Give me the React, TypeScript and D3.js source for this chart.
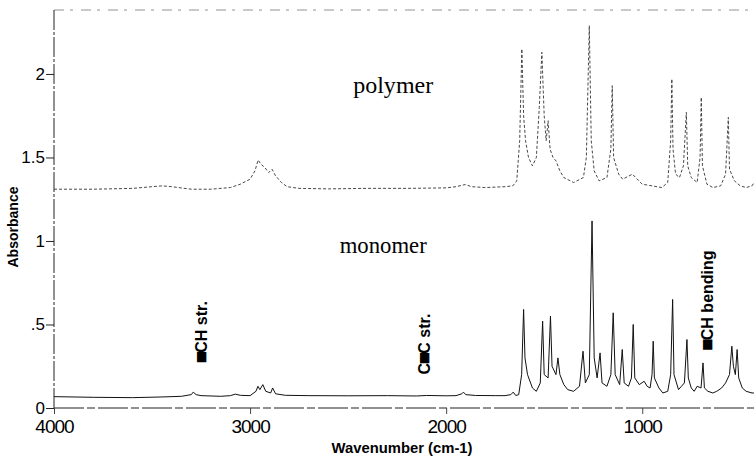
import * as d3 from 'd3';
import { useEffect, useRef } from 'react';

// wavenumber (cm-1), absorbance
const polymer: [number, number][] = [
  [4000, 1.31], [3800, 1.31], [3600, 1.315], [3500, 1.325], [3450, 1.33], [3400, 1.325],
  [3300, 1.31], [3200, 1.31], [3100, 1.32], [3050, 1.34], [3000, 1.37], [2975, 1.42],
  [2959, 1.485], [2945, 1.46], [2925, 1.44], [2905, 1.41], [2888, 1.43], [2870, 1.39],
  [2840, 1.35], [2811, 1.325], [2750, 1.315], [2600, 1.312], [2400, 1.315], [2200, 1.315],
  [2000, 1.318], [1950, 1.325], [1903, 1.338], [1870, 1.325], [1800, 1.32], [1700, 1.325],
  [1660, 1.33], [1640, 1.36], [1625, 1.6], [1614, 2.15], [1605, 1.75], [1595, 1.6],
  [1580, 1.5], [1560, 1.45], [1540, 1.5], [1525, 1.8], [1512, 2.13], [1500, 1.75],
  [1490, 1.6], [1480, 1.72], [1470, 1.55], [1455, 1.5], [1440, 1.48], [1420, 1.42],
  [1400, 1.38], [1350, 1.35], [1300, 1.38], [1285, 1.5], [1270, 2.29], [1260, 1.6],
  [1245, 1.42], [1220, 1.36], [1180, 1.38], [1160, 1.55], [1153, 1.93], [1146, 1.5],
  [1120, 1.4], [1100, 1.37], [1050, 1.4], [1000, 1.34], [950, 1.33], [900, 1.32],
  [870, 1.35], [855, 1.6], [849, 1.97], [843, 1.55], [830, 1.4], [810, 1.38], [790, 1.45],
  [775, 1.77], [768, 1.45], [750, 1.38], [720, 1.35], [705, 1.5], [699, 1.86], [693, 1.45],
  [670, 1.34], [640, 1.32], [600, 1.33], [575, 1.4], [561, 1.74], [555, 1.43], [530, 1.36],
  [500, 1.33], [470, 1.32], [440, 1.33], [430, 1.35]
];

const monomer: [number, number][] = [
  [4000, 0.068], [3800, 0.064], [3600, 0.062], [3450, 0.066], [3350, 0.07], [3300, 0.08],
  [3290, 0.095], [3275, 0.08], [3250, 0.074], [3150, 0.07], [3100, 0.074], [3075, 0.083],
  [3050, 0.076], [3000, 0.074], [2970, 0.1], [2960, 0.13], [2950, 0.11], [2935, 0.14],
  [2920, 0.1], [2895, 0.09], [2885, 0.12], [2870, 0.085], [2820, 0.076], [2700, 0.074],
  [2500, 0.073], [2300, 0.074], [2150, 0.072], [2100, 0.075], [2000, 0.073], [1950, 0.074],
  [1920, 0.085], [1912, 0.095], [1900, 0.08], [1850, 0.075], [1750, 0.074], [1700, 0.074],
  [1670, 0.08], [1658, 0.095], [1645, 0.075], [1630, 0.08], [1615, 0.2], [1605, 0.59],
  [1598, 0.3], [1585, 0.2], [1560, 0.12], [1540, 0.1], [1520, 0.15], [1508, 0.52],
  [1500, 0.2], [1480, 0.18], [1468, 0.55], [1460, 0.25], [1440, 0.2], [1430, 0.3],
  [1420, 0.2], [1400, 0.14], [1380, 0.11], [1350, 0.1], [1320, 0.13], [1302, 0.34],
  [1290, 0.15], [1270, 0.2], [1256, 1.12], [1245, 0.3], [1230, 0.18], [1215, 0.33],
  [1205, 0.15], [1180, 0.13], [1160, 0.2], [1148, 0.57], [1138, 0.2], [1115, 0.14],
  [1102, 0.35], [1092, 0.15], [1070, 0.13], [1055, 0.18], [1046, 0.5], [1038, 0.18],
  [1015, 0.14], [990, 0.16], [975, 0.13], [960, 0.12], [950, 0.2], [944, 0.4], [938, 0.18],
  [915, 0.12], [895, 0.09], [870, 0.1], [855, 0.2], [845, 0.65], [838, 0.2], [815, 0.11],
  [800, 0.13], [785, 0.15], [772, 0.41], [765, 0.18], [750, 0.12], [735, 0.1], [720, 0.13],
  [700, 0.12], [690, 0.27], [683, 0.12], [665, 0.1], [640, 0.09], [620, 0.1], [595, 0.12],
  [575, 0.15], [555, 0.2], [543, 0.37], [535, 0.25], [525, 0.2], [516, 0.35], [508, 0.18],
  [490, 0.12], [470, 0.1], [440, 0.09], [430, 0.09]
];

const xTicks = [4000, 3000, 2000, 1000];
const yTicks = [0, 0.5, 1, 1.5, 2];
const yTickLabels = ['0', '.5', '1', '1.5', '2'];

// [label, wavenumber, absorbance] of the sample names
const sampleLabels: [string, number, number][] = [
  ['polymer', 2270, 1.886],
  ['monomer', 2321, 0.93]
];

// [text before bond, bond, text after, wavenumber, absorbance at label start]
const bandLabels: [string, string, string, number, number][] = [
  ['', '\u2261', 'CH str.', 3222, 0.275],
  ['C', '\u2261', 'C str.', 2083, 0.2],
  ['', '\u2261', 'CH bending', 637, 0.35]
];

export default function App() {
  const svgRef = useRef<SVGSVGElement>(null);

  useEffect(() => {
    drawChart(svgRef.current);
  }, [svgRef]);

  return (
    <svg ref={svgRef} width={754} height={461}
      style={{ position: 'absolute', left: 0, top: 0, background: '#fff' }} />
  );
}

function drawChart(el: SVGSVGElement | null) {
  if (!el) return;
  const svg = d3.select(el);
  svg.selectAll('*').remove();

  const x = d3.scaleLinear().domain([4000, 430]).range([54, 754]);
  const y = d3.scaleLinear().domain([0, 2.383]).range([408, 10]);
  const sans = 'Liberation Sans, Arial, sans-serif';

  // scanned-looking frame
  svg.append('line').attr('x1', 54).attr('x2', 754).attr('y1', 10).attr('y2', 10)
    .attr('stroke', '#777').attr('stroke-width', 0.8).attr('stroke-dasharray', '10,6,3,8');
  svg.append('line').attr('x1', 54).attr('x2', 54).attr('y1', 10).attr('y2', 408)
    .attr('stroke', '#222').attr('stroke-width', 1).attr('stroke-dasharray', '20,2,3,2');
  svg.append('line').attr('x1', 54).attr('x2', 754).attr('y1', 408).attr('y2', 408)
    .attr('stroke', '#222').attr('stroke-width', 1.2).attr('stroke-dasharray', '30,3,8,3');

  const yAxis = d3.axisLeft(y).tickValues(yTicks)
    .tickFormat((_d, i) => yTickLabels[i]).tickSize(8).tickPadding(1);
  const gy = svg.append('g').attr('transform', 'translate(54,0)').call(yAxis);
  gy.select('.domain').remove();
  gy.selectAll('line').attr('stroke', '#222');
  gy.selectAll('text').attr('font-family', sans).attr('font-size', 17).attr('fill', '#000');

  const xAxis = d3.axisBottom(x).tickValues(xTicks).tickFormat(d3.format('d'))
    .tickSize(6).tickPadding(6);
  const gx = svg.append('g').attr('transform', 'translate(0,408)').call(xAxis);
  gx.select('.domain').remove();
  gx.selectAll('line').attr('stroke', '#444');
  gx.selectAll('text').attr('font-family', sans).attr('font-size', 19)
    .attr('letter-spacing', -1).attr('fill', '#000');

  const line = d3.line<[number, number]>().x(d => x(d[0])).y(d => y(d[1]));

  svg.append('path').attr('d', line(polymer)).attr('fill', 'none')
    .attr('stroke', '#333').attr('stroke-width', 0.9).attr('stroke-dasharray', '3,2');
  svg.append('path').attr('d', line(monomer)).attr('fill', 'none')
    .attr('stroke', '#111').attr('stroke-width', 1);

  svg.selectAll('text.sample').data(sampleLabels).enter().append('text')
    .attr('class', 'sample')
    .attr('x', d => x(d[1])).attr('y', d => y(d[2]))
    .attr('text-anchor', 'middle')
    .attr('font-family', 'Liberation Serif, Times New Roman, serif')
    .attr('font-size', 23)
    .attr('textLength', d => (d[0] === 'polymer' ? 80 : 87))
    .attr('lengthAdjust', 'spacingAndGlyphs')
    .text(d => d[0]);

  const band = svg.selectAll('text.band').data(bandLabels).enter().append('text')
    .attr('class', 'band')
    .attr('transform', d => `translate(${x(d[3])},${y(d[4])}) rotate(-90)`)
    .attr('font-family', sans).attr('font-size', 16).attr('font-weight', 'bold');
  band.append('tspan').text(d => d[0]);
  band.append('tspan').text(d => d[1]).attr('stroke', '#000').attr('stroke-width', 2.4);
  band.append('tspan').text(d => d[2]);

  svg.append('text').attr('x', 402).attr('y', 453).attr('text-anchor', 'middle')
    .attr('font-family', sans).attr('font-size', 14).attr('font-weight', 'bold')
    .attr('textLength', 141).attr('lengthAdjust', 'spacingAndGlyphs')
    .text('Wavenumber (cm-1)');

  svg.append('text').attr('transform', 'translate(18,227) rotate(-90)')
    .attr('text-anchor', 'middle')
    .attr('font-family', sans).attr('font-size', 14).attr('font-weight', 'bold')
    .attr('textLength', 81).attr('lengthAdjust', 'spacingAndGlyphs')
    .text('Absorbance');
}
